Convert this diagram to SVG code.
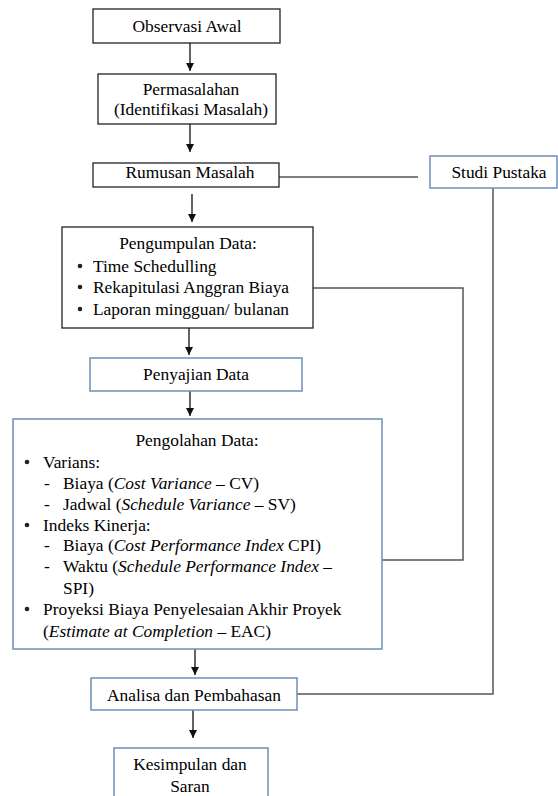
<svg xmlns="http://www.w3.org/2000/svg" width="558" height="796" viewBox="0 0 558 796">
<style>
.c{text-anchor:middle}
.bk{fill:#fff;stroke:#222;stroke-width:1.3}
.bl{fill:#fff;stroke:#6f8fb8;stroke-width:1.5}
.ln{fill:none;stroke:#555;stroke-width:1.5}
.ar{fill:none;stroke:#111;stroke-width:1.3}
.dot{fill:#222}
</style>
<defs>
<marker id="ah" viewBox="0 0 10 10" refX="10" refY="5" markerWidth="10" markerHeight="8" markerUnits="userSpaceOnUse" orient="auto">
<path d="M0,0 L10,5 L0,10 z" fill="#111"/>
</marker>
</defs>
<rect width="558" height="796" fill="#fff"/>
<g id="connectors">
<line class="ar" x1="190" y1="43" x2="190" y2="71" marker-end="url(#ah)"/>
<line class="ar" x1="190" y1="124" x2="190" y2="152" marker-end="url(#ah)"/>
<line class="ar" x1="192" y1="194" x2="192" y2="222" marker-end="url(#ah)"/>
<line class="ar" x1="189" y1="328" x2="189" y2="355" marker-end="url(#ah)"/>
<line class="ar" x1="190" y1="391" x2="190" y2="416" marker-end="url(#ah)"/>
<line class="ar" x1="195" y1="649" x2="195" y2="675" marker-end="url(#ah)"/>
<line class="ar" x1="193" y1="710" x2="193" y2="738" marker-end="url(#ah)"/>
<path class="ln" d="M279,177 H418"/>
<path class="ln" d="M493,188 V694 H297"/>
<path class="ln" d="M313,288 H463 V560 H382"/>
</g>
<g id="observasi">
<rect class="bk" x="93" y="9" width="187" height="34"/>
<text class="c" font-family="Liberation Serif, serif" font-size="17.4" x="187" y="32">Observasi Awal</text>
</g>
<g id="permasalahan">
<rect class="bk" x="98" y="74" width="178" height="50"/>
<text class="c" font-family="Liberation Serif, serif" font-size="17.4" x="191" y="95">Permasalahan</text>
<text class="c" font-family="Liberation Serif, serif" font-size="17.4" x="191" y="115">(Identifikasi Masalah)</text>
</g>
<g id="rumusan">
<rect class="bk" x="93" y="163" width="186" height="24"/>
<text class="c" font-family="Liberation Serif, serif" font-size="17.4" x="190" y="178">Rumusan Masalah</text>
</g>
<g id="studi">
<rect class="bl" x="430" y="156" width="127" height="32"/>
<text class="c" font-family="Liberation Serif, serif" font-size="17.4" x="499" y="178">Studi Pustaka</text>
</g>
<g id="pengumpulan">
<rect class="bk" x="62" y="227" width="251" height="101"/>
<text class="c" font-family="Liberation Serif, serif" font-size="17.4" x="188" y="249">Pengumpulan Data:</text>
<circle class="dot" cx="80" cy="266" r="2.3"/>
<text font-family="Liberation Serif, serif" font-size="17.4" x="93" y="272">Time Schedulling</text>
<circle class="dot" cx="80" cy="287" r="2.3"/>
<text font-family="Liberation Serif, serif" font-size="17.4" x="93" y="293">Rekapitulasi Anggran Biaya</text>
<circle class="dot" cx="80" cy="309" r="2.3"/>
<text font-family="Liberation Serif, serif" font-size="17.4" x="93" y="315">Laporan mingguan/ bulanan</text>
</g>
<g id="penyajian">
<rect class="bl" x="90" y="358" width="212" height="33"/>
<text class="c" font-family="Liberation Serif, serif" font-size="17.4" x="196" y="380">Penyajian Data</text>
</g>
<g id="pengolahan">
<rect class="bl" x="13" y="419" width="369" height="230"/>
<text class="c" font-family="Liberation Serif, serif" font-size="17.4" x="197" y="446">Pengolahan Data:</text>
<circle class="dot" cx="27" cy="462" r="2.3"/>
<text font-family="Liberation Serif, serif" font-size="17.4" x="43" y="468">Varians:</text>
<text font-family="Liberation Serif, serif" font-size="17.4" x="44" y="489">-</text>
<text font-family="Liberation Serif, serif" font-size="17.4" x="63" y="489">Biaya (<tspan font-style="italic">Cost Variance</tspan> – CV)</text>
<text font-family="Liberation Serif, serif" font-size="17.4" x="44" y="510">-</text>
<text font-family="Liberation Serif, serif" font-size="17.4" x="63" y="510">Jadwal (<tspan font-style="italic">Schedule Variance</tspan> – SV)</text>
<circle class="dot" cx="27" cy="525" r="2.3"/>
<text font-family="Liberation Serif, serif" font-size="17.4" x="43" y="531">Indeks Kinerja:</text>
<text font-family="Liberation Serif, serif" font-size="17.4" x="44" y="551">-</text>
<text font-family="Liberation Serif, serif" font-size="17.4" x="63" y="551">Biaya (<tspan font-style="italic">Cost Performance Index</tspan> CPI)</text>
<text font-family="Liberation Serif, serif" font-size="17.4" x="44" y="572">-</text>
<text font-family="Liberation Serif, serif" font-size="17.4" x="63" y="572">Waktu (<tspan font-style="italic">Schedule Performance Index</tspan> –</text>
<text font-family="Liberation Serif, serif" font-size="17.4" x="63" y="594">SPI)</text>
<circle class="dot" cx="27" cy="609" r="2.3"/>
<text font-family="Liberation Serif, serif" font-size="17.4" x="43" y="615">Proyeksi Biaya Penyelesaian Akhir Proyek</text>
<text font-family="Liberation Serif, serif" font-size="17.4" x="43" y="637">(<tspan font-style="italic">Estimate at Completion</tspan> – EAC)</text>
</g>
<g id="analisa">
<rect class="bl" x="91" y="678" width="206" height="32"/>
<text class="c" font-family="Liberation Serif, serif" font-size="17.4" x="194" y="701">Analisa dan Pembahasan</text>
</g>
<g id="kesimpulan">
<rect class="bl" x="114" y="748" width="154" height="60"/>
<text class="c" font-family="Liberation Serif, serif" font-size="17.4" x="190" y="770">Kesimpulan dan</text>
<text class="c" font-family="Liberation Serif, serif" font-size="17.4" x="190" y="792">Saran</text>
</g>
</svg>
